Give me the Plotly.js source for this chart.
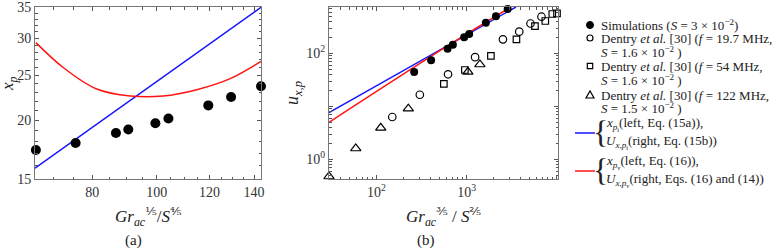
<!DOCTYPE html>
<html>
<head>
<meta charset="utf-8">
<script src="https://cdn.plot.ly/plotly-3.0.1.min.js"></script>
<style>html,body{margin:0;padding:0;background:#fff;}#chart{width:777px;height:250px;}</style>
</head>
<body>
<div id="chart"></div>
<script>
// ---------- data: panel (a) ----------
const simLeftX = [65.8, 75.5, 86.8, 90.6, 99.5, 104.1, 119.5, 129.3, 143.4];
const simLeftY = [17.28, 17.89, 18.80, 19.12, 19.73, 20.2, 21.55, 22.46, 23.69];
const blueLeftX = [65.6, 143.4];
const blueLeftY = [15.79, 35.0];
const redLeftX = [65.8, 72.4, 81.2, 91.2, 102.3, 114.8, 128.9, 143.4];
const redLeftY = [29.4, 25.96, 23.37, 22.57, 22.57, 23.29, 24.6, 26.8];

// ---------- data: panel (b) ----------
const simRightX = [262, 404, 615, 704, 940, 1069, 1637, 2117, 2856];
const simRightY = [44.4, 73.8, 122, 145, 200, 231, 378, 499, 685];
const d197X = [149.8, 302.8, 623, 1243, 2531, 3841, 5117, 6778];
const d197Y = [6.28, 16.5, 40.2, 84.4, 183.7, 255.6, 365, 490];
const d54X = [559.5, 957.4, 1862, 3575, 5739, 7470, 8937, 10077];
const d54Y = [26.6, 48.4, 89.7, 183.7, 327, 407, 551, 568.5];
const d122X = [29.74, 58.9, 111.6, 225.6, 1034, 1405];
const d122Y = [0.474, 1.6, 3.93, 9.01, 44.8, 61.5];
const blueRightX = [29.74, 3530];
const blueRightY = [7.57, 747];
const redRightX = [29.74, 652, 3106];
const redRightY = [4.99, 147.2, 747];

// ---------- tick labels ----------
const leftXMajor = [80, 100, 120, 140];
const leftXLabels = ['80', '100', '120', '140'];
const leftXMinor = [70,75,85,90,95,105,110,115,125,130,135];
const leftYMajor = [15, 20, 25, 30, 35];
const leftYLabels = ['15', '20', '25', '30', '35'];
const leftYMinor = [16,17,18,19,21,22,23,24,26,27,28,29,31,32,33,34];
const rightXMajor = [100, 1000, 10000];
const rightXLabels = ['10<sup>2</sup>', '10<sup>3</sup>', ''];
const rightXMinor = [30,40,50,60,70,80,90,200,300,400,500,600,700,800,900,2000,3000,4000,5000,6000,7000,8000,9000];
const rightYMajor = [1, 10, 100];
const rightYLabels = ['10<sup>0</sup>', '', '10<sup>2</sup>'];
const rightYMinor = [0.5,0.6,0.7,0.8,0.9,2,3,4,5,6,7,8,9,20,30,40,50,60,70,80,90,200,300,400,500,600,700];

const legendLabels = [
  ['Simulations (<i>S</i> = 3 × 10<sup>−2</sup>)'],
  ['Dentry <i>et al.</i> [30] (<i>f</i> = 19.7 MHz,', '<i>S</i> = 1.6 × 10<sup>−2</sup> )'],
  ['Dentry <i>et al.</i> [30] (<i>f</i> = 54 MHz,', '<i>S</i> = 1.6 × 10<sup>−2</sup> )'],
  ['Dentry <i>et al.</i> [30] (<i>f</i> = 122 MHz,', '<i>S</i> = 1.5 × 10<sup>−2</sup> )'],
  ['<i>x</i><sub><i>p</i><sub>i</sub></sub>(left, Eq. (15a)),', '<i>U</i><sub><i>x</i>,<i>p</i><sub>i</sub></sub>(right, Eq. (15b))'],
  ['<i>x</i><sub><i>p</i><sub>v</sub></sub>(left, Eq. (16)),', '<i>U</i><sub><i>x</i>,<i>p</i><sub>v</sub></sub>(right, Eqs. (16) and (14))']
];

// ---------- styling ----------
const W = 777, H = 250;
const SERIF = '"Liberation Serif", "DejaVu Serif", serif';
const BLUE = 'rgb(20,20,255)', RED = 'rgb(255,20,20)';
const px = v => v / W, py = v => 1 - v / H;

const axisBase = {
  type: 'log', showgrid: false, zeroline: false,
  showline: true, linecolor: '#777', linewidth: 1, mirror: 'allticks',
  ticks: 'inside', ticklen: 4, tickwidth: 1, tickcolor: '#555',
  tickmode: 'array', tickfont: {family: SERIF, size: 14, color: '#333'},
  fixedrange: true, automargin: false
};
const mk = (o) => Object.assign({}, axisBase, o);
const minorAx = (o) => Object.assign({}, axisBase, {ticklen: 2.5, showticklabels: false}, o);

const L_XR = [Math.log10(65.6), Math.log10(143.4)];
const L_YR = [Math.log10(15) - 0.0008, Math.log10(35) + 0.0008];
const R_XR = [1.4733, 4.0144];
const R_YR = [-0.3717, 2.8736];
const L_XD = [px(35), px(261)], R_XD = [px(329), px(558)], YD = [py(179), py(7)];

const traces = [
  {x: blueLeftX, y: blueLeftY, xaxis: 'x', yaxis: 'y', mode: 'lines', line: {color: BLUE, width: 1.5}, showlegend: false},
  {x: redLeftX, y: redLeftY, xaxis: 'x', yaxis: 'y', mode: 'lines', line: {color: RED, width: 1.5, shape: 'spline'}, showlegend: false},
  {x: simLeftX, y: simLeftY, xaxis: 'x', yaxis: 'y', mode: 'markers', marker: {color: '#000', size: 10}, cliponaxis: false, showlegend: false},

  {x: blueRightX, y: blueRightY, xaxis: 'x2', yaxis: 'y2', mode: 'lines', line: {color: BLUE, width: 1.5}, showlegend: false},
  {x: redRightX, y: redRightY, xaxis: 'x2', yaxis: 'y2', mode: 'lines', line: {color: RED, width: 1.5, shape: 'spline'}, showlegend: false},
  {x: simRightX, y: simRightY, xaxis: 'x2', yaxis: 'y2', mode: 'markers', marker: {color: '#000', size: 8}, cliponaxis: false, showlegend: false},
  {x: d197X, y: d197Y, xaxis: 'x2', yaxis: 'y2', mode: 'markers', marker: {symbol: 'circle-open', color: '#000', size: 7.5, line: {width: 1.2}}, cliponaxis: false, showlegend: false},
  {x: d54X, y: d54Y, xaxis: 'x2', yaxis: 'y2', mode: 'markers', marker: {symbol: 'square-open', color: '#000', size: 6.5, line: {width: 1.2}}, cliponaxis: false, showlegend: false},
  {x: d122X, y: d122Y, xaxis: 'x2', yaxis: 'y2', mode: 'markers', marker: {symbol: 'triangle-up-open', color: '#000', size: 9, line: {width: 1.2}}, cliponaxis: false, showlegend: false},

  // empty traces so the minor-tick overlay axes are created
  {x: [], y: [], xaxis: 'x3', yaxis: 'y3', mode: 'markers', showlegend: false, hoverinfo: 'skip'},
  {x: [], y: [], xaxis: 'x4', yaxis: 'y4', mode: 'markers', showlegend: false, hoverinfo: 'skip'}
];

// ---------- annotations ----------
const ann = [];
const txt = (x, y, text, size, extra) => ann.push(Object.assign({
  x: px(x), y: py(y), xref: 'paper', yref: 'paper', text: text, showarrow: false,
  font: {family: SERIF, size: size, color: '#222'}, xanchor: 'center', yanchor: 'middle'
}, extra || {}));

txt(9, 84, '<i>x</i><sub><i>p</i></sub>', 17, {textangle: -90});
txt(293, 93, '<i>u</i><sub><i>x</i>,<i>p</i></sub>', 18, {textangle: -90});
txt(148, 216, '<i>Gr</i><sub><i>ac</i></sub><sup>⅕</sup>/<i>S</i><sup>⅘</sup>', 17);
txt(443, 216, '<i>Gr</i><sub><i>ac</i></sub><sup>⅗</sup> / <i>S</i><sup>⅖</sup>', 17);
txt(133, 240, '(a)', 15);
txt(426, 240, '(b)', 15);

// legend layout
const legendRows = [[25], [38, 52], [66, 80], [95, 108], [124, 142], [162, 180]];
const shapes = [];
const MX = 590;
legendLabels.forEach((lines, i) => {
  const isLine = i >= 4;
  const x0 = isLine ? 604 : 599;
  lines.forEach((t, j) => txt(x0, legendRows[i][j], t, 13, {xanchor: 'left'}));
  if (isLine) {
    const yc = (legendRows[i][0] + legendRows[i][1]) / 2;
    txt(600, yc - 1, '{', 32, {font: {family: SERIF, size: 32, color: '#222'}});
    shapes.push({type: 'line', xref: 'paper', yref: 'paper', x0: px(575), x1: px(595), y0: py(yc), y1: py(yc),
      line: {color: i === 4 ? BLUE : RED, width: 1.5}});
  }
});
const r0 = legendRows;
shapes.push({type: 'circle', xref: 'paper', yref: 'paper', x0: px(MX - 3.5), x1: px(MX + 3.5), y0: py(r0[0][0] - 3.5), y1: py(r0[0][0] + 3.5), fillcolor: '#000', line: {color: '#000', width: 1}});
shapes.push({type: 'circle', xref: 'paper', yref: 'paper', x0: px(MX - 3), x1: px(MX + 3), y0: py(r0[1][0] - 3), y1: py(r0[1][0] + 3), line: {color: '#000', width: 1.2}});
shapes.push({type: 'rect', xref: 'paper', yref: 'paper', x0: px(MX - 2.7), x1: px(MX + 2.7), y0: py(r0[2][0] - 2.7), y1: py(r0[2][0] + 2.7), line: {color: '#000', width: 1.2}});
const ty = r0[3][0];
shapes.push({type: 'path', xref: 'paper', yref: 'paper',
  path: `M ${px(MX - 4)} ${py(ty + 3)} L ${px(MX + 4)} ${py(ty + 3)} L ${px(MX)} ${py(ty - 4)} Z`,
  line: {color: '#000', width: 1.2}});

const layout = {
  width: W, height: H,
  margin: {l: 0, r: 0, t: 0, b: 0},
  paper_bgcolor: '#fff', plot_bgcolor: 'rgba(0,0,0,0)',
  showlegend: false,
  xaxis: mk({domain: L_XD, range: L_XR, anchor: 'y', tickvals: leftXMajor, ticktext: leftXLabels}),
  yaxis: mk({domain: YD, range: L_YR, anchor: 'x', tickvals: leftYMajor, ticktext: leftYLabels}),
  xaxis2: mk({domain: R_XD, range: R_XR, anchor: 'y2', tickvals: rightXMajor, ticktext: rightXLabels}),
  yaxis2: mk({domain: YD, range: R_YR, anchor: 'x2', tickvals: rightYMajor, ticktext: rightYLabels}),
  xaxis3: minorAx({overlaying: 'x', anchor: 'y3', domain: L_XD, range: L_XR, tickvals: leftXMinor}),
  yaxis3: minorAx({overlaying: 'y', anchor: 'x3', domain: YD, range: L_YR, tickvals: leftYMinor}),
  xaxis4: minorAx({overlaying: 'x2', anchor: 'y4', domain: R_XD, range: R_XR, tickvals: rightXMinor}),
  yaxis4: minorAx({overlaying: 'y2', anchor: 'x4', domain: YD, range: R_YR, tickvals: rightYMinor}),
  annotations: ann,
  shapes: shapes
};

Plotly.newPlot('chart', traces, layout, {displayModeBar: false, staticPlot: true});
</script>
</body>
</html>
